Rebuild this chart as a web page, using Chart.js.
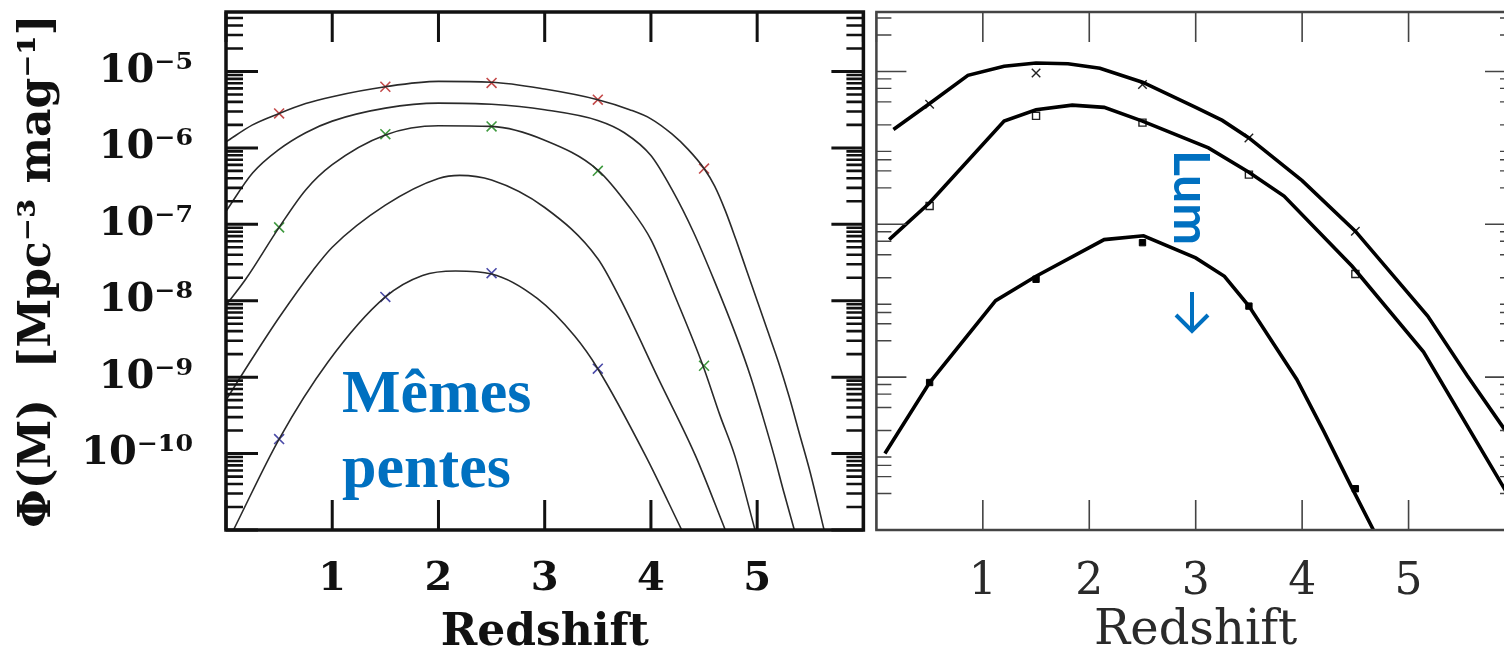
<!DOCTYPE html>
<html>
<head>
<meta charset="utf-8">
<script src="https://cdn.jsdelivr.net/npm/chart.js@4.4.1/dist/chart.umd.min.js"></script>
<style>
    html, body { margin: 0; padding: 0; background: #fff; width: 1504px; height: 660px; overflow: hidden; }
    canvas { position: absolute; top: 0; }
    #left { left: 0; }
    #right { left: 869px; }
</style>
</head>
<body>
<canvas id="left" width="872" height="660"></canvas>
<canvas id="right" width="660" height="660"></canvas>
<script>
// x tick labels (0 and 6 are left blank)
const xTickLabels = ['', '1', '2', '3', '4', '5', ''];
// log axis: decades drawn, decades labelled, minor multipliers
const yDecades = [-11, -10, -9, -8, -7, -6, -5];
const yLabelExponents = [-10, -9, -8, -7, -6, -5];
const minorSteps = [1, 2, 3, 4, 5, 6, 7, 8, 9];

// left panel: five model curves (redshift, density)
const lz1 = [0, 0.25, 0.5, 0.75, 1.0, 1.5, 2.0, 2.5, 3.0, 3.5, 3.8, 4.0, 4.2, 4.35, 4.5, 4.6, 4.7, 4.8, 4.9, 5.0, 5.1, 5.2, 5.3, 5.4, 5.5, 5.63];
const lphi1 = [1.20e-6, 2.0e-6, 2.82e-6, 3.80e-6, 4.68e-6, 6.31e-6, 7.41e-6, 7.24e-6, 5.89e-6, 4.27e-6, 3.16e-6, 2.40e-6, 1.51e-6, 9.55e-7, 5.37e-7, 3.16e-7, 1.51e-7, 6.31e-8, 2.51e-8, 1.0e-8, 3.98e-9, 1.58e-9, 5.62e-10, 1.78e-10, 5.62e-11, 1.0e-11];

const lz2 = [0, 0.25, 0.5, 0.75, 1.0, 1.5, 2.0, 2.5, 3.0, 3.5, 3.75, 4.0, 4.2, 4.4, 4.6, 4.8, 4.94, 5.05, 5.16, 5.25, 5.35];
const lphi2 = [1.48e-7, 4.68e-7, 9.55e-7, 1.58e-6, 2.24e-6, 3.31e-6, 3.85e-6, 3.72e-6, 3.16e-6, 2.29e-6, 1.58e-6, 7.94e-7, 2.82e-7, 7.94e-8, 1.78e-8, 3.55e-9, 1.0e-9, 3.16e-10, 9.33e-11, 3.16e-11, 1.0e-11];

const lz3 = [0, 0.19, 0.5, 0.75, 1.0, 1.5, 2.0, 2.5, 3.0, 3.5, 3.8, 4.0, 4.23, 4.49, 4.65, 4.79, 4.98];
const lphi3 = [8.71e-9, 1.95e-8, 9.12e-8, 2.82e-7, 6.03e-7, 1.48e-6, 1.95e-6, 1.91e-6, 1.26e-6, 5.13e-7, 1.66e-7, 6.31e-8, 1.12e-8, 1.41e-9, 3.16e-10, 9.33e-11, 1.0e-11];

const lz4 = [0, 0.25, 0.5, 0.82, 1.0, 1.5, 2.0, 2.2, 2.5, 3.0, 3.5, 3.72, 4.07, 4.42, 4.70];
const lphi4 = [5.01e-10, 1.78e-9, 6.03e-9, 2.51e-8, 5.01e-8, 1.78e-7, 3.98e-7, 4.37e-7, 3.80e-7, 1.66e-7, 3.55e-8, 1.0e-8, 9.55e-10, 9.33e-11, 1.0e-11];

const lz5 = [0.07, 0.5, 0.96, 1.5, 1.85, 2.16, 2.5, 2.93, 3.28, 3.5, 3.95, 4.29];
const lphi5 = [1.0e-11, 1.55e-10, 1.58e-9, 1.12e-8, 2.14e-8, 2.45e-8, 2.24e-8, 1.07e-8, 3.47e-9, 1.29e-9, 9.33e-11, 1.0e-11];

// left panel: data points (crosses)
const markZ = [0.5, 1.5, 2.5, 3.5, 4.5];
const redMarks = [2.82e-6, 6.31e-6, 7.08e-6, 4.27e-6, 5.37e-7];
const greenMarks = [9.12e-8, 1.51e-6, 1.91e-6, 5.01e-7, 1.41e-9];
const blueMarks = [1.55e-10, 1.12e-8, 2.29e-8, 1.29e-9];

// right panel: three model curves
const rzA = [0.16, 0.5, 0.86, 1.2, 1.5, 1.8, 2.1, 2.5, 3.0, 3.25, 3.5, 4.0, 4.5, 5.18, 5.55, 5.9, 6.0];
const rphiA = [1.74e-6, 3.80e-6, 8.91e-6, 1.17e-5, 1.29e-5, 1.26e-5, 1.10e-5, 7.24e-6, 3.39e-6, 2.29e-6, 1.35e-6, 3.72e-7, 8.13e-8, 6.31e-9, 1.05e-9, 2.09e-10, 1.32e-10];

const rzB = [0.12, 0.5, 1.2, 1.5, 1.84, 2.14, 2.5, 3.12, 3.5, 3.83, 4.47, 5.14, 5.9, 6.0];
const rphiB = [6.31e-8, 1.91e-7, 2.24e-6, 3.16e-6, 3.63e-6, 3.39e-6, 2.24e-6, 1.0e-6, 4.79e-7, 2.34e-7, 2.82e-8, 2.14e-9, 3.47e-11, 2.0e-11];

const rzC = [0.08, 0.5, 1.12, 1.5, 2.14, 2.51, 3.0, 3.27, 3.5, 3.95, 4.2, 4.45, 4.67];
const rphiC = [1.0e-10, 8.51e-10, 1.0e-8, 2.09e-8, 6.31e-8, 7.08e-8, 3.63e-8, 2.09e-8, 8.51e-9, 9.33e-10, 2.0e-10, 3.98e-11, 1.0e-11];

// right panel: data points
const rMarkZ = [0.5, 1.5, 2.5, 3.5, 4.5];
const crossMarks = [3.72e-6, 9.55e-6, 6.76e-6, 1.35e-6, 8.13e-8];
const openSquareMarks = [1.74e-7, 2.63e-6, 2.14e-6, 4.47e-7, 2.24e-8];
const filledSquareMarks = [8.51e-10, 1.91e-8, 5.75e-8, 8.51e-9, 3.47e-11];

const SUP = { '-': '\u207B', '0': '\u2070', '1': '\u00B9', '2': '\u00B2', '3': '\u00B3', '4': '\u2074', '5': '\u2075', '6': '\u2076', '7': '\u2077', '8': '\u2078', '9': '\u2079' };

function pts(xs, ys) {
    return ys.map((v, i) => ({ x: xs[i], y: v }));
}

function decade(v) {
    const e = Math.log10(v);
    const r = Math.round(e);
    return Math.abs(e - r) < 1e-6 ? r : null;
}

function curve(xs, ys, color, width, smooth) {
    return {
        type: 'line',
        data: pts(xs, ys),
        borderColor: color,
        borderWidth: width,
        pointRadius: 0,
        fill: false,
        tension: smooth ? 0.4 : 0,
        cubicInterpolationMode: smooth ? 'monotone' : 'default',
    };
}

function marks(xs, ys, style, radius, color, fillColor, width) {
    return {
        type: 'scatter',
        data: pts(xs, ys),
        pointStyle: style,
        pointRadius: radius,
        borderColor: color,
        backgroundColor: fillColor,
        borderWidth: width,
    };
}

// every 1..9 x 10^n tick on the log axis
function fullLogTicks(scale) {
    scale.ticks = yDecades
        .flatMap((e) => minorSteps.map((m) => ({ value: m * Math.pow(10, e) })))
        .filter((t) => t.value >= scale.min && t.value <= scale.max);
}

// frame box and inward ticks on all four sides, placed with the chart scales
const frameTicks = {
    id: 'frameTicks',
    afterDatasetsDraw(chart, args, o) {
        const { ctx, chartArea: a, scales: { x, y } } = chart;
        ctx.save();
        ctx.strokeStyle = o.color;
        ctx.lineCap = 'butt';

        ctx.lineWidth = o.xTickWidth;
        ctx.beginPath();
        x.ticks.forEach((t) => {
            const px = x.getPixelForValue(t.value);
            ctx.moveTo(px, a.top);
            ctx.lineTo(px, a.top + o.xLen);
            ctx.moveTo(px, a.bottom);
            ctx.lineTo(px, a.bottom - o.xLen);
        });
        ctx.stroke();

        y.ticks.forEach((t) => {
            const py = y.getPixelForValue(t.value);
            const major = decade(t.value) !== null;
            const len = major ? o.yMajor : o.yMinor;
            ctx.lineWidth = major ? o.yMajorWidth : o.yMinorWidth;
            ctx.beginPath();
            ctx.moveTo(a.left, py);
            ctx.lineTo(a.left + len, py);
            ctx.moveTo(a.right, py);
            ctx.lineTo(a.right - len, py);
            ctx.stroke();
        });

        ctx.lineWidth = o.frameWidth;
        ctx.strokeRect(a.left, a.top, a.right - a.left, a.bottom - a.top);
        ctx.restore();
    },
};

// free text (and one arrow) placed on a panel
const notes = {
    id: 'notes',
    afterDraw(chart, args, o) {
        const { ctx } = chart;
        (o.items || []).forEach((n) => {
            ctx.save();
            ctx.fillStyle = n.color;
            ctx.strokeStyle = n.color;
            ctx.translate(n.x, n.y);
            if (n.arrow) {
                // downward arrow: shaft plus open head
                ctx.lineWidth = 4;
                ctx.lineCap = 'butt';
                ctx.lineJoin = 'miter';
                ctx.beginPath();
                ctx.moveTo(0, 0);
                ctx.lineTo(0, n.arrow - 3);
                ctx.moveTo(-16, n.arrow - 17);
                ctx.lineTo(0, n.arrow - 1);
                ctx.lineTo(16, n.arrow - 17);
                ctx.stroke();
            } else {
                ctx.font = n.font;
                ctx.textAlign = n.align || 'left';
                ctx.textBaseline = 'alphabetic';
                if (n.rotate) {
                    ctx.rotate(n.rotate);
                }
                ctx.fillText(n.text, 0, 0);
            }
            ctx.restore();
        });
    },
};

Chart.defaults.font.family = '"DejaVu Serif", serif';
Chart.defaults.color = '#111';

function fixHeight(h) {
    return (scale) => {
        scale.height = h;
        scale.paddingLeft = 0;
        scale.paddingRight = 0;
    };
}

function fixWidth(w) {
    return (scale) => {
        scale.width = w;
        scale.paddingTop = 0;
        scale.paddingBottom = 0;
    };
}

function xScale(bold, color, labelSize, titleSize) {
    return {
        type: 'linear',
        min: 0,
        max: 6,
        position: 'bottom',
        grid: { display: false },
        border: { display: false },
        ticks: {
            stepSize: 1,
            autoSkip: false,
            maxRotation: 0,
            padding: 18,
            color: color,
            font: { size: labelSize, weight: bold ? 'bold' : 'normal' },
            callback: (v, i) => xTickLabels[i] ?? '',
        },
        title: {
            display: true,
            text: 'Redshift',
            color: color,
            font: { size: titleSize, weight: bold ? 'bold' : 'normal' },
            padding: { top: 0, bottom: 0 },
        },
        afterFit: fixHeight(130),
    };
}

const baseOptions = {
    responsive: false,
    devicePixelRatio: 1,
    animation: false,
    events: [],
    plugins: { legend: { display: false }, tooltip: { enabled: false } },
};

new Chart(document.getElementById('left'), {
    type: 'line',
    data: {
        datasets: [
            curve(lz1, lphi1, '#2a2a2a', 1.6, true),
            curve(lz2, lphi2, '#2a2a2a', 1.6, true),
            curve(lz3, lphi3, '#2a2a2a', 1.6, true),
            curve(lz4, lphi4, '#2a2a2a', 1.6, true),
            curve(lz5, lphi5, '#2a2a2a', 1.6, true),
            marks(markZ, redMarks, 'crossRot', 7, '#c44a4a', '#c44a4a', 1.6),
            marks(markZ, greenMarks, 'crossRot', 7, '#3f9a3f', '#3f9a3f', 1.6),
            marks(markZ.slice(0, 4), blueMarks, 'crossRot', 7, '#4a4aa8', '#4a4aa8', 1.6),
        ],
    },
    options: {
        ...baseOptions,
        layout: { padding: { left: 0, right: 4, top: 12, bottom: 0 } },
        scales: {
            x: xScale(true, '#111', 40, 44),
            y: {
                type: 'logarithmic',
                min: 1e-11,
                max: 6e-5,
                position: 'left',
                grid: { display: false },
                border: { display: false },
                afterBuildTicks: fullLogTicks,
                ticks: {
                    autoSkip: false,
                    padding: 25,
                    color: '#111',
                    font: { size: 40, weight: 'bold' },
                    callback: (v) => {
                        const d = decade(v);
                        if (d === null || !yLabelExponents.includes(d)) {
                            return '';
                        }
                        return '10' + String(d).split('').map((c) => SUP[c]).join('');
                    },
                },
                title: {
                    display: true,
                    text: '\u03A6(M)  [Mpc\u207B\u00B3 mag\u207B\u00B9]',
                    color: '#111',
                    font: { size: 44, weight: 'bold' },
                    padding: { top: 12, bottom: 0 },
                },
                afterFit: fixWidth(226),
            },
        },
        plugins: {
            ...baseOptions.plugins,
            frameTicks: { color: '#111', frameWidth: 3.5, xLen: 30, xTickWidth: 3, yMajor: 32, yMinor: 17, yMajorWidth: 3, yMinorWidth: 2.6 },
            notes: {
                items: [
                    { text: 'M\u00EAmes', x: 342, y: 412, font: 'bold 62px "Liberation Serif", serif', color: '#0070C0' },
                    { text: 'pentes', x: 342, y: 487, font: 'bold 62px "Liberation Serif", serif', color: '#0070C0' },
                ],
            },
        },
    },
    plugins: [frameTicks, notes],
});

new Chart(document.getElementById('right'), {
    type: 'line',
    data: {
        datasets: [
            curve(rzA, rphiA, '#000', 3.6, false),
            curve(rzB, rphiB, '#000', 3.6, false),
            curve(rzC, rphiC, '#000', 3.6, false),
            marks(rMarkZ, crossMarks, 'crossRot', 6, '#222', '#222', 1.4),
            marks(rMarkZ, openSquareMarks, 'rect', 5, '#222', 'rgba(255,255,255,0)', 1.4),
            marks(rMarkZ, filledSquareMarks, 'rect', 4.5, '#000', '#000', 1),
        ],
    },
    options: {
        ...baseOptions,
        layout: { padding: { left: 2, right: 14, top: 12, bottom: 0 } },
        scales: {
            x: xScale(false, '#2a2a2a', 44, 48),
            y: { type: 'logarithmic', min: 1e-11, max: 6e-5, display: false, afterBuildTicks: fullLogTicks },
        },
        plugins: {
            ...baseOptions.plugins,
            frameTicks: { color: '#444', frameWidth: 2.5, xLen: 30, xTickWidth: 1.6, yMajor: 30, yMinor: 15, yMajorWidth: 1.6, yMinorWidth: 1.4 },
            notes: {
                items: [
                    { text: 'Lum', x: 1174 - 869, y: 150, rotate: Math.PI / 2, font: 'bold 50px Lato, "Noto Sans", sans-serif', color: '#0070C0' },
                    { arrow: 40, x: 1192 - 869, y: 292, color: '#0070C0' },
                ],
            },
        },
    },
    plugins: [frameTicks, notes],
});
</script>
</body>
</html>
